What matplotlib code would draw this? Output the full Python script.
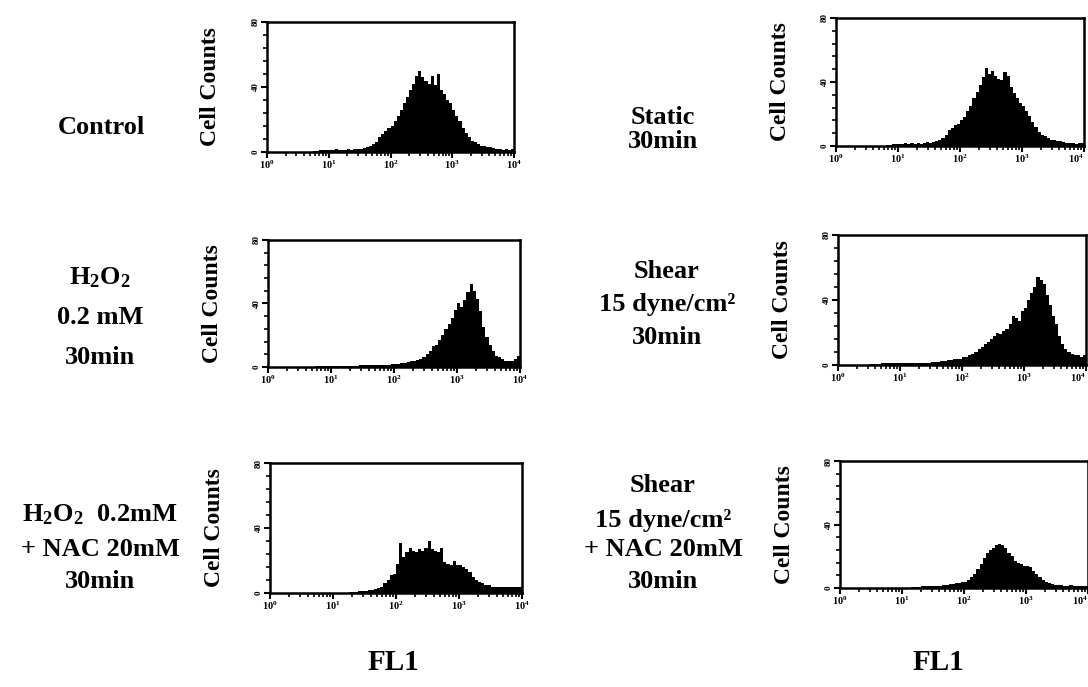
import numpy as np
import matplotlib
matplotlib.use("Agg")
import matplotlib.pyplot as plt

plt.rcParams['font.family'] = ['Liberation Serif', 'DejaVu Serif']
plt.rcParams['font.weight'] = 'bold'
plt.rcParams['mathtext.fontset'] = 'custom'
plt.rcParams['mathtext.rm'] = 'Liberation Serif:bold'
plt.rcParams['mathtext.bf'] = 'Liberation Serif:bold'
plt.rcParams['mathtext.it'] = 'Liberation Serif:bold'

# FL1 channel grid: 80 bins over 4 decades (10^0 .. 10^4)
n_bins = 80
decade_range = (0, 4)

control = [0,0,0,0,0,0,0,0,0,0,
           0,0,0,0,0,0.5,0.5,1,
           1,1.5,1,1,2,1.5,1,1.5,2,1.5,2,2,
           2,2.5,3,4,5,6,
           9,11,13,15,
           16,19,22,26,30,
           34,38,42,47,50,
           46,44,42,47,41,
           48,38,36,32,30,
           26,22,19,15,12,
           9,7,6,5,4,
           4,3,3,2.5,2,2,1.5,2,1.5,2]

static_30 = [0,0,0,0,0,0,0,0,0,0,
             0,0,0,0,0,0,0.5,0.5,1,1,
             1,1.5,2,1.5,2,1.5,2,1.5,2,2.5,
             2,2.5,3,3.5,5,7,
             10,11,13,14,
             16,18,22,25,30,
             34,38,43,49,45,
             47,44,42,41,46,
             44,37,33,30,27,
             25,22,19,15,12,
             9,7,6,5,4,
             3.5,3,3,2.5,2,2,2,1.5,2,2]

h2o2 = [0,0,0,0,0,0,0,0,0,0,
        0.3,0.3,0.3,0.3,0.3,0.5,0.5,0.5,0.5,0.5,
        0.5,0.5,0.5,0.7,0.7,0.7,0.7,0.8,0.8,1,
        1,1,1,1,1.2,1.2,1.5,1.5,1.5,1.8,
        2,2,2.5,2.5,3,
        3.5,4,4.5,5,6,
        8,10,13,14,17,
        20,24,27,31,36,
        40,38,42,47,52,
        48,43,35,25,19,
        14,10,7,6,5,
        4,4,4,5,7]

shear = [0,0,0,0,0,0,0,0,0,0,
         0.5,0.5,0.5,0.5,1,1,1,1,1,1,
         1,1,1,1,1,1.5,1,1.5,1.5,1.5,
         2,2,2,2.5,2.5,3,3,3.5,4,4,
         5,5,6,7,8,
         10,11,13,14,16,
         18,20,19,21,22,
         25,30,29,27,33,
         35,40,44,48,54,
         52,50,43,37,30,
         25,18,13,10,8,
         7,6,6,5,6]

h2o2_nac = [0,0,0.3,0.3,0.3,0.3,0.3,0.3,0.3,0.3,
            0.3,0.3,0.3,0.3,0.3,0.3,0.3,0.3,0.3,0.3,
            0.3,0.3,0.3,0.3,0.3,0.5,0.5,0.8,1.2,1.5,
            1.5,2,2,2.5,3,4,
            6,8,11,12,
            18,31,22,25,28,
            26,25,27,26,28,
            32,27,26,25,28,
            19,18,17,20,17,
            17,16,15,13,10,
            8,7,6,5,5,
            4,4,4,3.5,3.5,4,4,3.5,4,4]

shear_nac = [0,0,0,0.3,0.3,0.3,0.3,0.3,0.3,0.3,
             0.3,0.3,0.3,0.3,0.3,0.3,0.3,0.3,0.3,0.3,
             0.3,0.3,0.3,0.5,0.5,0.8,1,1,1,1,
             1,1.5,1.5,2,2,2.5,2.5,3,3,3.5,
             4,5,7,9,12,
             15,19,22,24,25,
             27,28,27,25,22,
             20,17,16,15,14,
             14,13,11,9,7,
             5,4,3,2.5,2,
             2,2,1.5,1.5,2,1.5,1.5,1.5,1.5,1.5]

x_tick_labels = ['$10^0$', '$10^1$', '$10^2$', '$10^3$', '$10^4$']
y_tick_labels = ['0', '40', '80']

row_labels = [
    ['Control'],
    ['H$_2$O$_2$', '0.2 mM', '30min'],
    ['H$_2$O$_2$  0.2mM', '+ NAC 20mM', '30min'],
]
right_labels = [
    ['Static', '30min'],
    ['Shear', '15 dyne/cm²', '30min'],
    ['Shear', '15 dyne/cm²', '+ NAC 20mM', '30min'],
]

W, H = 1088, 687
fig = plt.figure(figsize=(W / 100, H / 100), dpi=100)

# axes boxes in pixels: left, right, top, bottom
boxes = [
    (267, 514, 22, 152),
    (836, 1084, 18, 146),
    (268, 520, 240, 367),
    (838, 1086, 235, 365),
    (270, 522, 463, 593),
    (840, 1088, 461, 588),
]
data = [control, static_30, h2o2, shear, h2o2_nac, shear_nac]

edges = np.logspace(decade_range[0], decade_range[1], n_bins + 1)

for k, ((l, r, t, b), vals) in enumerate(zip(boxes, data)):
    ax = fig.add_axes([l / W, 1 - b / H, (r - l) / W, (b - t) / H])
    ax.stairs(vals, edges, fill=True, color='black', baseline=0)
    ax.set_xscale('log')
    ax.set_xlim(1, 1e4)
    ax.set_ylim(0, 80)
    ax.set_xticks([1, 10, 100, 1000, 10000])
    ax.set_xticklabels(x_tick_labels)
    ax.set_yticks([0, 40, 80])
    ax.set_yticklabels(y_tick_labels)
    ax.set_yticks(np.arange(0, 81, 8), minor=True)
    ax.tick_params(axis='x', which='major', direction='out', length=4, width=1.5,
                   labelsize=7.5, pad=1)
    ax.tick_params(axis='x', which='minor', direction='out', length=3, width=1.2)
    ax.tick_params(axis='y', which='major', direction='out', length=4, width=1.5,
                   labelsize=6.5, pad=1, labelrotation=90)
    ax.tick_params(axis='y', which='minor', direction='out', length=3, width=1.2)
    for lab in ax.get_yticklabels():
        lab.set_va('center')
    if k % 2 == 1:
        ax.get_xticklabels()[-1].set_ha('right')
    for sp in ax.spines.values():
        sp.set_linewidth(1.8)
    ax.set_ylabel('Cell Counts', fontsize=17, fontweight='bold', labelpad=22)

def put_lines(lines, cx, ys, size=19):
    for txt, y in zip(lines, ys):
        fig.text(cx / W, 1 - y / H, txt, ha='center', va='center',
                 fontsize=size, fontweight='bold')

put_lines(row_labels[0], 101, [128])
put_lines(row_labels[1], 100, [278, 318, 358])
put_lines(row_labels[2], 100, [515, 550, 582])
put_lines(right_labels[0], 663, [117, 142])
put_lines(right_labels[1], 667, [272, 305, 337])
put_lines(right_labels[2], 663, [485, 520, 550, 582])

fig.text(393 / W, 1 - 663 / H, 'FL1', ha='center', va='center', fontsize=21, fontweight='bold')
fig.text(938 / W, 1 - 662 / H, 'FL1', ha='center', va='center', fontsize=21, fontweight='bold')

fig.savefig('out.png', dpi=100, facecolor='white')
